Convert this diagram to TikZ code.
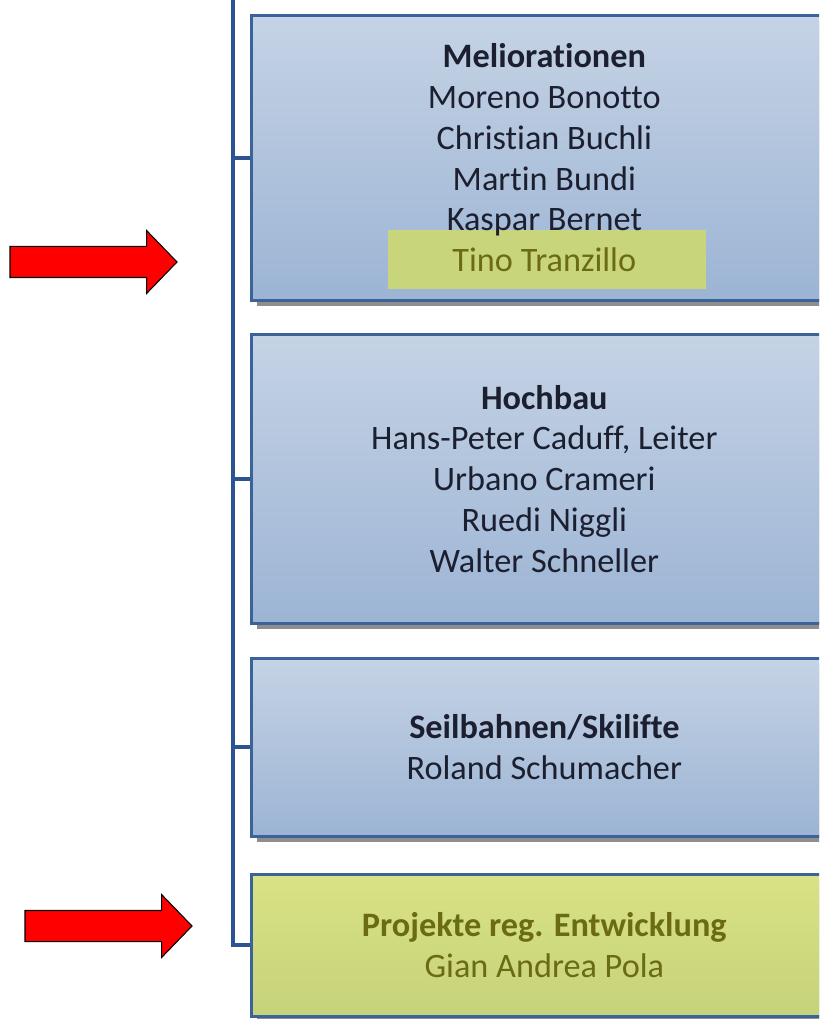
\documentclass[tikz,border=0pt]{standalone}
\usepackage{fontspec}
\setmainfont{Carlito}[Ligatures=NoCommon]
\usetikzlibrary{positioning,shapes.arrows,shadows}
\definecolor{boxtop}{HTML}{C5D3E5}
\definecolor{boxbot}{HTML}{9CB4D4}
\definecolor{boxline}{HTML}{3C629A}
\definecolor{trunk}{HTML}{2B5490}
\definecolor{greentop}{HTML}{D9E284}
\definecolor{greenbot}{HTML}{C6D27A}
\definecolor{hlgreen}{HTML}{C9D57B}
\definecolor{olive}{HTML}{6B6B16}
\definecolor{navy}{HTML}{1C1F30}
\definecolor{shadowgray}{HTML}{8E8E8E}

\begin{document}
\begin{tikzpicture}[x=0.75pt, y=-0.75pt,
    unit/.style={draw=boxline, line width=2pt, top color=boxtop, bottom color=boxbot,
        minimum width=439.5pt, anchor=north west, inner sep=0pt,
        drop shadow={shadow xshift=4pt, shadow yshift=-4pt, fill=shadowgray, opacity=1}},
    names/.style={align=center, text=navy, font=\fontsize{25.7}{30.6}\selectfont},
    pointer/.style={single arrow, draw=black, fill=red, line width=0.8pt,
        inner xsep=0pt, inner ysep=11.25pt, minimum height=125.25pt,
        single arrow head extend=12pt, single arrow tip angle=92}]
\useasboundingbox (0,0) rectangle (819,1019);
\clip (0,0) rectangle (819,1019);

    % Departments
\node[unit, minimum height=213.75pt] (melio) at (250,14) {};
\node[unit, minimum height=216.75pt] (hoch) at (250,333) {};
\node[unit, minimum height=133.5pt] (seil) at (250,657) {};
\node[unit, minimum height=106.5pt, top color=greentop, bottom color=greenbot] (proj) at (250,873) {};

    % Highlight for the new member
\node[fill=hlgreen, inner sep=0pt, minimum width=238.5pt, minimum height=44.25pt] (tinohl) at (547,260) {};

    % Names
\node[names] (meliotxt) at (melio.center) {\textbf{Meliorationen}\\Moreno Bonotto\\Christian Buchli\\Martin Bundi\\Kaspar Bernet\\\textcolor{olive}{Tino Tranzillo}};
\node[names] (hochtxt) at (hoch.center) {\textbf{Hochbau}\\Hans-Peter Caduff, Leiter\\Urbano Crameri\\Ruedi Niggli\\Walter Schneller};
\node[names] (seiltxt) at (seil.center) {\textbf{Seilbahnen/Skilifte}\\Roland Schumacher};
\node[names, text=olive] (projtxt) at (proj.center) {\textbf{Projekte reg. Entwicklung}\\Gian Andrea Pola};

    % Trunk line
\coordinate (top) at (233,0);
\draw[trunk, line width=3pt] (top) |- (proj.west);
\foreach \d in {melio,hoch,seil}
    \draw[trunk, line width=3pt] (top |- \d.west) -- (\d.west);

    % Red arrows
\node[pointer] (arrowa) at (86,262) {};
\node[pointer] (arrowb) at (101,926) {};
\end{tikzpicture}
\end{document}
